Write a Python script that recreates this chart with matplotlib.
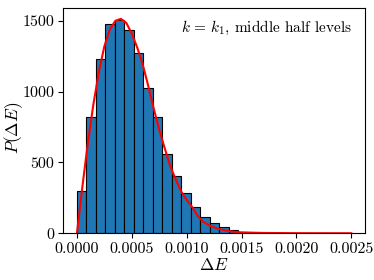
import numpy as np
import matplotlib
matplotlib.use("Agg")
import matplotlib.pyplot as plt
from matplotlib.ticker import FormatStrFormatter

plt.rcParams['font.family'] = 'serif'
plt.rcParams['font.serif'] = ['cmr10']
plt.rcParams['mathtext.fontset'] = 'cm'
plt.rcParams['axes.unicode_minus'] = False

# histogram counts per bin
bin_width = 0.0000865
counts = [299, 821, 1231, 1481, 1509, 1438, 1274, 1023, 818, 561,
          405, 283, 188, 117, 71, 47, 23, 8]
bin_edges = [i * bin_width for i in range(len(counts))]

# fitted curve, sampled by eye
curve_x = [0.0, 0.00005, 0.0001, 0.00015, 0.0002, 0.00025, 0.0003, 0.00035,
           0.0004, 0.00045, 0.0005, 0.00055, 0.0006, 0.00065, 0.0007,
           0.00075, 0.0008, 0.00085, 0.0009, 0.00095, 0.001, 0.00105,
           0.0011, 0.00115, 0.0012, 0.00127, 0.00135, 0.00142, 0.0015,
           0.0017, 0.002, 0.0025]
curve_y = [0, 330, 640, 910, 1140, 1320, 1440, 1500, 1514, 1485, 1410, 1310,
           1190, 1040, 880, 730, 600, 475, 380, 295, 235, 185, 122, 82, 58,
           35, 20, 11, 6, 2, 0.5, 0]

fig = plt.figure(figsize=(3.74, 2.80), dpi=100)
ax = fig.add_axes([0.169, 0.167, 0.807, 0.804])

ax.bar(bin_edges, counts, width=bin_width, align='edge',
       color='#1f77b4', edgecolor='black', linewidth=0.8)
ax.plot(curve_x, curve_y, color='red', linewidth=1.5)

ax.xaxis.set_major_formatter(FormatStrFormatter('%.4f'))
ax.set_xticks([0.0, 0.0005, 0.0010, 0.0015, 0.0020, 0.0025])
ax.set_yticks([0, 500, 1000, 1500])
ax.tick_params(labelsize=11.5, pad=3)

ax.set_xlabel(r'$\Delta E$', fontsize=12.5, labelpad=1)
ax.set_ylabel(r'$P(\Delta E)$', fontsize=12.5)
ax.yaxis.set_label_coords(-0.125, 0.47)
ax.text(0.955, 0.95, r'$k\,=\,k_1$, middle half levels', transform=ax.transAxes,
        ha='right', va='top', fontsize=11)

fig.savefig('out.png', dpi=100)
